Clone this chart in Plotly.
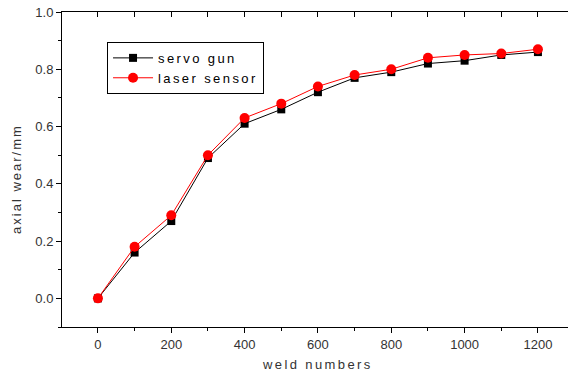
import plotly.graph_objects as go

weld_numbers = [0, 100, 200, 300, 400, 500, 600, 700, 800, 900, 1000, 1100, 1200]
servo_gun = [0.0, 0.16, 0.27, 0.49, 0.61, 0.66, 0.72, 0.77, 0.79, 0.82, 0.83, 0.85, 0.86]
laser_sensor = [0.0, 0.18, 0.29, 0.50, 0.63, 0.68, 0.74, 0.78, 0.80, 0.84, 0.85, 0.855, 0.87]

x_ticks = [0, 200, 400, 600, 800, 1000, 1200]
y_ticks = [0.0, 0.2, 0.4, 0.6, 0.8, 1.0]

FONT = "Liberation Sans, Arial, sans-serif"
TICKCOL = "#333333"


def spaced(s, px=2.4):
    return f'<span style="letter-spacing:{px}px">{s}</span>'


fig = go.Figure()
fig.add_trace(go.Scatter(
    x=weld_numbers, y=servo_gun, name=spaced("servo gun"), mode="lines+markers",
    line=dict(color="black", width=1),
    marker=dict(symbol="square", size=8, color="black"),
))
fig.add_trace(go.Scatter(
    x=weld_numbers, y=laser_sensor, name=spaced("laser sensor"), mode="lines+markers",
    line=dict(color="red", width=1),
    marker=dict(symbol="circle", size=10, color="red"),
))
# invisible trace to activate the top overlay axis
fig.add_trace(go.Scatter(x=[None], y=[None], xaxis="x2", showlegend=False, hoverinfo="skip"))

fig.update_layout(
    width=568, height=376,
    margin=dict(l=62, r=0, t=12, b=49, autoexpand=False),
    paper_bgcolor="white", plot_bgcolor="white",
    font=dict(family=FONT, color=TICKCOL, size=13),
    showlegend=True,
    legend=dict(
        x=0.089, y=0.905, xanchor="left", yanchor="top",
        bordercolor="black", borderwidth=1, bgcolor="white",
        font=dict(family=FONT, size=13, color="black"),
        tracegroupgap=0, itemwidth=40,
    ),
    xaxis=dict(
        range=[-98, 1282], tickvals=x_ticks, ticktext=[str(v) for v in x_ticks],
        showgrid=False, zeroline=False, automargin=False,
        showline=True, linecolor="black", linewidth=1,
        ticks="outside", ticklen=5, tickcolor="black", tickwidth=1,
        minor=dict(dtick=100, tick0=0, ticks="outside", ticklen=3, tickcolor="black"),
        tickfont=dict(family=FONT, size=13, color=TICKCOL),
    ),
    xaxis2=dict(
        overlaying="x", side="top", range=[-98, 1282],
        dtick=100, tick0=0, showticklabels=False, automargin=False,
        showgrid=False, zeroline=False,
        showline=True, linecolor="black", linewidth=1,
        ticks="inside", ticklen=5, tickcolor="black",
    ),
    yaxis=dict(
        range=[-0.1, 1.0], tickvals=y_ticks, ticktext=[f"{v:.1f}" for v in y_ticks],
        showgrid=False, zeroline=False, automargin=False,
        showline=True, linecolor="black", linewidth=1,
        ticks="outside", ticklen=5, tickcolor="black", tickwidth=1,
        minor=dict(dtick=0.1, tick0=0, ticks="outside", ticklen=3, tickcolor="black"),
        tickfont=dict(family=FONT, size=13, color=TICKCOL),
    ),
    annotations=[
        dict(text=spaced("weld numbers"), xref="paper", yref="paper", x=0.504, y=-0.1206,
             xanchor="center", yanchor="middle", showarrow=False,
             font=dict(family=FONT, size=13, color=TICKCOL)),
        dict(text=spaced("axial wear/mm", 2.0), xref="paper", yref="paper", x=-0.089, y=0.47,
             xanchor="center", yanchor="middle", showarrow=False, textangle=-90,
             font=dict(family=FONT, size=13, color=TICKCOL)),
    ],
)

fig.write_html("out.html", config={"displayModeBar": False},
               post_script="document.body.style.margin='0';document.body.style.overflow='hidden';")
